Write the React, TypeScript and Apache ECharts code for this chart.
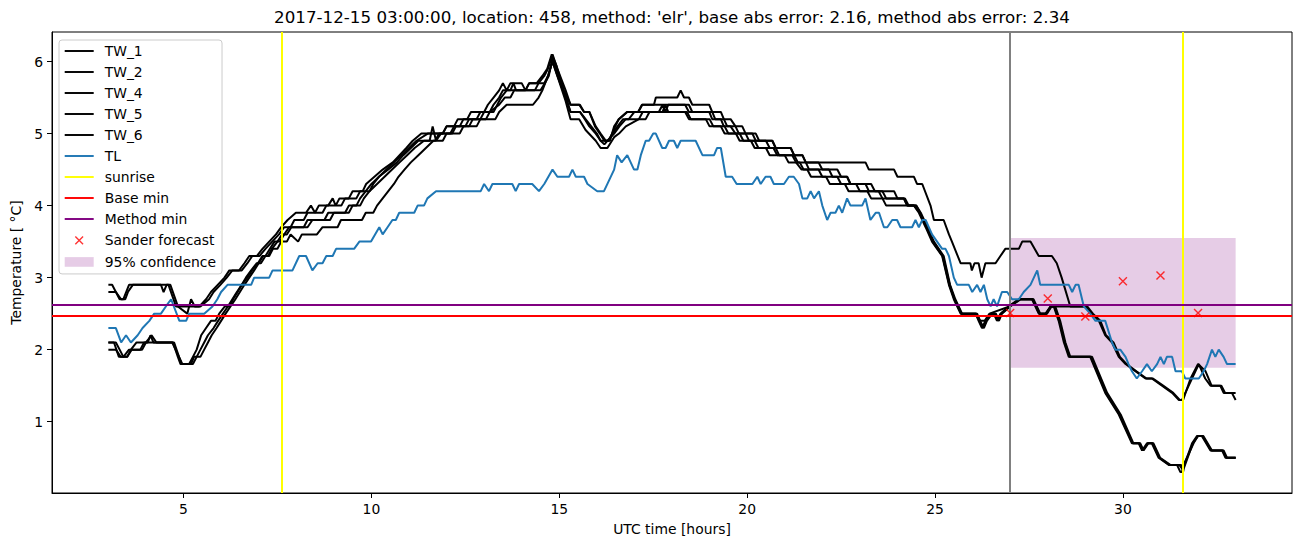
import React, { useEffect, useRef } from "react";
import * as echarts from "echarts";

const TITLE =
  "2017-12-15 03:00:00, location: 458, method: 'elr', base abs error: 2.16, method abs error: 2.34";
const X_NAME = "UTC time [hours]";
const Y_NAME = "Temperature [ °C]";
const xTicks = [5, 10, 15, 20, 25, 30];
const yTicks = [1, 2, 3, 4, 5, 6];

const tw1: number[][] = [
  [3.0,2.9],[3.1,2.9],[3.3,2.7],[3.4,2.7],[3.55,2.9],[4.4,2.9],[4.47,2.8],[4.55,2.9],[4.65,2.9],[4.85,2.6],[5.1,2.5],[5.2,2.7],[5.3,2.6],[5.42,2.6],[5.6,2.7],[5.73,2.8],[5.91,2.9],[6.09,3.0],[6.22,3.1],[6.48,3.1],[6.62,3.2],[6.75,3.3],[6.95,3.3],[7.1,3.4],[7.28,3.5],[7.46,3.6],[7.6,3.7],[7.77,3.8],[7.99,3.9],[8.26,3.9],[8.39,4.0],[8.5,3.9],[8.6,4.0],[8.85,4.0],[8.97,4.1],[9.05,4.0],[9.15,4.1],[9.4,4.1],[9.5,4.2],[9.77,4.2],[9.86,4.3],[10.08,4.4],[10.3,4.5],[10.57,4.6],[10.75,4.7],[10.93,4.8],[11.1,4.9],[11.33,5.0],[11.9,5.0],[12.0,5.1],[12.2,5.1],[12.3,5.2],[12.55,5.2],[12.65,5.3],[13.0,5.3],[13.1,5.4],[13.25,5.5],[13.4,5.6],[13.5,5.7],[13.6,5.6],[13.7,5.7],[14.0,5.7],[14.1,5.6],[14.2,5.7],[14.45,5.7],[14.6,5.8],[14.7,5.9],[14.82,6.1],[14.95,5.9],[15.17,5.6],[15.3,5.4],[15.53,5.4],[15.66,5.3],[15.8,5.3],[15.97,5.1],[16.1,5.0],[16.24,4.9],[16.35,4.9],[16.46,5.1],[16.59,5.2],[16.81,5.3],[17.1,5.3],[17.21,5.4],[18.45,5.4],[18.54,5.3],[18.99,5.3],[19.07,5.2],[19.3,5.2],[19.38,5.1],[19.56,5.1],[19.69,5.0],[19.96,5.0],[20.05,4.9],[20.5,4.9],[20.6,4.8],[20.76,4.8],[20.85,4.7],[21.25,4.7],[21.35,4.6],[21.56,4.6],[21.65,4.5],[22.18,4.5],[22.27,4.4],[22.66,4.4],[22.75,4.3],[23.15,4.3],[23.24,4.2],[23.91,4.2],[24.0,4.1],[24.17,4.1],[24.26,4.0],[24.44,4.0],[24.57,3.9],[24.75,3.7],[24.92,3.5],[25.19,3.3],[25.37,2.9],[25.5,2.7],[25.68,2.5],[26.08,2.5],[26.16,2.4],[26.25,2.3],[26.34,2.4],[26.48,2.5],[26.56,2.5],[26.65,2.4],[26.74,2.5],[26.96,2.6],[27.23,2.7],[27.58,2.7],[27.76,2.5],[27.94,2.5],[28.07,2.6],[28.16,2.6],[28.29,2.4],[28.43,2.1],[28.56,1.9],[29.13,1.9],[29.53,1.4],[29.89,1.1],[30.24,0.7],[30.42,0.7],[30.51,0.6],[30.64,0.7],[30.77,0.7],[30.95,0.5],[31.22,0.4],[31.44,0.4],[31.53,0.3],[31.57,0.3],[31.84,0.7],[31.97,0.8],[32.1,0.8],[32.33,0.6],[32.64,0.6],[32.73,0.5],[33.0,0.5]
];

const tw2: number[][] = [
  [3.0,2.8],[3.2,2.8],[3.34,2.7],[3.45,2.7],[3.52,2.8],[3.65,2.9],[4.6,2.9],[4.8,2.6],[5.45,2.6],[5.68,2.7],[5.8,2.8],[5.98,2.9],[6.15,3.0],[6.3,3.1],[6.55,3.1],[6.7,3.2],[6.83,3.3],[7.02,3.3],[7.18,3.4],[7.36,3.5],[7.54,3.6],[7.68,3.7],[7.85,3.7],[7.95,3.8],[8.2,3.8],[8.3,3.9],[8.7,3.9],[8.8,4.0],[9.2,4.0],[9.3,4.1],[9.6,4.1],[9.7,4.2],[9.95,4.2],[10.05,4.3],[10.2,4.4],[10.45,4.5],[10.68,4.6],[10.85,4.7],[11.05,4.8],[11.25,4.9],[11.55,4.9],[11.63,5.1],[11.72,4.9],[11.85,5.0],[12.1,5.0],[12.2,5.1],[12.5,5.1],[12.6,5.2],[12.9,5.2],[13.0,5.3],[13.25,5.3],[13.35,5.4],[13.45,5.5],[13.6,5.6],[13.7,5.6],[13.78,5.7],[13.85,5.6],[14.5,5.6],[14.62,5.7],[14.72,5.8],[14.82,6.05],[14.92,5.9],[15.15,5.55],[15.3,5.3],[15.55,5.3],[15.7,5.2],[15.85,5.1],[16.0,5.0],[16.1,4.9],[16.3,4.9],[16.42,5.0],[16.55,5.1],[16.7,5.2],[16.85,5.2],[17.0,5.3],[17.65,5.3],[17.75,5.4],[17.82,5.3],[17.9,5.4],[18.35,5.4],[18.45,5.3],[19.07,5.3],[19.15,5.2],[19.38,5.2],[19.47,5.1],[19.69,5.1],[19.78,5.0],[20.23,5.0],[20.32,4.9],[20.67,4.9],[20.76,4.8],[21.16,4.8],[21.25,4.7],[21.47,4.7],[21.56,4.6],[21.9,4.6],[22.0,4.5],[22.4,4.5],[22.5,4.4],[22.66,4.4],[22.75,4.3],[23.3,4.3],[23.4,4.2],[23.6,4.2],[23.7,4.1],[24.2,4.1],[24.3,4.0],[24.5,4.0],[24.62,3.9],[24.8,3.7],[24.97,3.5],[25.23,3.3],[25.4,2.9],[25.54,2.7],[25.72,2.5],[26.12,2.5],[26.2,2.4],[26.3,2.3],[26.38,2.4],[26.52,2.5],[26.62,2.5],[26.7,2.4],[26.78,2.5],[27.0,2.6],[27.28,2.7],[27.62,2.7],[27.8,2.5],[27.98,2.5],[28.1,2.6],[28.2,2.6],[28.33,2.4],[28.47,2.1],[28.6,1.9],[29.18,1.9],[29.58,1.4],[29.94,1.1],[30.28,0.7],[30.46,0.7],[30.55,0.6],[30.68,0.7],[30.81,0.7],[30.99,0.5],[31.26,0.4],[31.55,0.4],[31.6,0.3],[31.62,0.35],[31.86,0.7],[32.0,0.8],[32.14,0.8],[32.37,0.6],[32.68,0.6],[32.77,0.5],[33.0,0.5]
];

const tw4: number[][] = [
  [3.0,2.1],[3.15,2.1],[3.28,1.9],[3.4,1.9],[3.55,2.0],[3.9,2.0],[4.0,2.1],[4.15,2.2],[4.28,2.1],[4.7,2.1],[4.88,1.9],[4.97,1.8],[5.2,1.8],[5.28,1.9],[5.45,1.9],[5.55,2.0],[5.65,2.1],[5.75,2.2],[5.88,2.3],[6.0,2.4],[6.12,2.5],[6.25,2.6],[6.38,2.7],[6.5,2.8],[6.62,2.9],[6.75,3.0],[6.88,3.1],[7.0,3.2],[7.12,3.3],[7.25,3.3],[7.35,3.4],[7.5,3.5],[7.62,3.6],[7.75,3.6],[7.87,3.7],[8.3,3.7],[8.43,3.8],[8.9,3.8],[9.0,3.9],[9.4,3.9],[9.5,4.0],[9.7,4.0],[9.8,4.1],[9.95,4.2],[10.15,4.3],[10.35,4.4],[10.55,4.5],[10.75,4.6],[10.95,4.7],[11.15,4.8],[11.4,4.9],[11.7,4.9],[11.8,5.0],[12.15,5.0],[12.25,5.1],[12.6,5.1],[12.7,5.2],[13.05,5.2],[13.15,5.3],[13.4,5.4],[13.55,5.5],[13.7,5.5],[13.8,5.6],[14.35,5.6],[14.45,5.7],[14.6,5.7],[14.7,5.8],[14.82,6.0],[14.95,5.8],[15.17,5.5],[15.3,5.3],[15.55,5.3],[15.68,5.2],[15.8,5.1],[15.97,5.0],[16.1,4.9],[16.2,4.85],[16.28,4.9],[16.46,5.0],[16.6,5.1],[16.77,5.2],[17.12,5.2],[17.22,5.3],[18.4,5.3],[18.5,5.2],[19.0,5.2],[19.1,5.1],[19.4,5.1],[19.5,5.0],[19.8,5.0],[19.9,4.9],[20.2,4.9],[20.3,4.8],[20.7,4.8],[20.8,4.7],[21.2,4.7],[21.3,4.6],[21.45,4.5],[21.6,4.5],[21.7,4.4],[22.1,4.4],[22.2,4.3],[22.6,4.3],[22.7,4.2],[23.2,4.2],[23.3,4.1],[23.6,4.1],[23.7,4.0],[24.44,4.0],[24.6,3.9],[24.78,3.7],[24.95,3.5],[25.2,3.3],[25.38,2.9],[25.52,2.7],[25.7,2.5],[26.1,2.5],[26.18,2.4],[26.27,2.3],[26.36,2.4],[26.5,2.5],[26.6,2.5],[26.68,2.4],[26.76,2.5],[26.98,2.6],[27.25,2.7],[27.6,2.7],[27.78,2.5],[27.96,2.5],[28.08,2.6],[28.18,2.6],[28.31,2.4],[28.45,2.1],[28.58,1.9],[29.15,1.9],[29.55,1.4],[29.91,1.1],[30.26,0.7],[30.44,0.7],[30.53,0.6],[30.66,0.7],[30.79,0.7],[30.97,0.5],[31.24,0.4],[31.5,0.4],[31.57,0.35],[31.88,0.7],[31.99,0.8],[32.12,0.8],[32.35,0.6],[32.66,0.6],[32.75,0.5],[33.0,0.5]
];

const tw5: number[][] = [
  [3.0,2.1],[3.2,2.1],[3.3,2.0],[3.4,1.9],[3.5,1.9],[3.6,2.0],[3.75,2.1],[4.75,2.1],[4.88,1.9],[4.95,1.8],[5.15,1.8],[5.25,1.9],[5.35,2.0],[5.47,2.2],[5.6,2.3],[5.73,2.4],[5.85,2.4],[5.95,2.5],[6.1,2.6],[6.22,2.6],[6.32,2.7],[6.44,2.8],[6.55,2.9],[6.66,3.0],[6.8,3.1],[6.95,3.2],[7.06,3.2],[7.18,3.3],[7.3,3.4],[7.42,3.5],[7.56,3.5],[7.68,3.6],[7.81,3.7],[8.2,3.7],[8.3,3.8],[8.75,3.8],[8.85,3.9],[9.3,3.9],[9.4,4.0],[9.6,4.0],[9.7,4.1],[9.85,4.2],[10.0,4.3],[10.2,4.4],[10.4,4.5],[10.6,4.6],[10.8,4.7],[11.0,4.8],[11.2,4.9],[11.5,5.0],[11.9,5.0],[12.0,5.1],[12.35,5.1],[12.45,5.2],[12.8,5.2],[12.9,5.3],[13.15,5.3],[13.25,5.4],[13.4,5.5],[13.5,5.6],[14.1,5.6],[14.2,5.7],[14.4,5.7],[14.55,5.8],[14.68,5.9],[14.8,6.1],[14.92,5.95],[15.12,5.6],[15.3,5.4],[15.55,5.4],[15.66,5.3],[15.8,5.3],[15.95,5.1],[16.08,5.0],[16.2,4.9],[16.32,4.9],[16.45,5.05],[16.58,5.2],[16.8,5.3],[17.1,5.3],[17.2,5.4],[17.52,5.4],[17.57,5.5],[18.14,5.5],[18.23,5.6],[18.32,5.5],[18.45,5.5],[18.54,5.4],[18.99,5.4],[19.07,5.3],[19.3,5.3],[19.38,5.2],[19.56,5.2],[19.69,5.1],[19.87,5.1],[19.96,5.0],[20.14,5.0],[20.23,4.9],[20.67,4.9],[20.76,4.8],[21.16,4.8],[21.25,4.7],[21.47,4.7],[21.56,4.6],[23.15,4.6],[23.24,4.5],[23.91,4.5],[24.0,4.4],[24.44,4.4],[24.52,4.3],[24.66,4.3],[24.88,4.0],[24.97,3.8],[25.23,3.8],[25.37,3.6],[25.45,3.5],[25.68,3.2],[25.94,3.2],[25.98,3.1],[26.05,3.2],[26.16,3.2],[26.24,3.0],[26.34,3.2],[26.61,3.2],[26.74,3.3],[26.87,3.4],[27.23,3.4],[27.32,3.5],[27.54,3.5],[27.76,3.3],[28.11,3.3],[28.24,3.2],[28.37,3.0],[28.6,2.6],[29.0,2.6],[29.18,2.5],[29.36,2.4],[29.53,2.2],[29.71,2.1],[29.89,1.9],[30.07,1.8],[30.33,1.7],[30.6,1.6],[30.77,1.6],[31.04,1.5],[31.31,1.4],[31.49,1.3],[31.57,1.3],[32.02,1.8],[32.19,1.6],[32.33,1.5],[32.59,1.5],[32.68,1.4],[33.0,1.4]
];

const tw6: number[][] = [
  [3.0,2.0],[3.2,2.0],[3.33,1.9],[3.5,1.9],[3.62,2.0],[3.85,2.0],[3.95,2.1],[4.05,2.1],[4.12,2.2],[4.2,2.1],[4.72,2.1],[4.85,1.9],[4.92,1.8],[5.25,1.8],[5.35,1.9],[5.45,2.0],[5.55,2.1],[5.65,2.2],[5.8,2.3],[5.92,2.4],[6.05,2.5],[6.18,2.6],[6.3,2.7],[6.42,2.8],[6.55,2.9],[6.7,3.0],[6.82,3.1],[6.98,3.2],[7.1,3.3],[7.28,3.3],[7.38,3.4],[7.5,3.4],[7.6,3.5],[7.75,3.5],[7.85,3.6],[8.05,3.5],[8.15,3.6],[8.55,3.6],[8.7,3.7],[9.1,3.7],[9.19,3.8],[9.75,3.8],[9.85,3.9],[10.05,3.9],[10.15,4.0],[10.3,4.1],[10.45,4.2],[10.6,4.3],[10.72,4.4],[10.88,4.5],[11.05,4.6],[11.25,4.7],[11.45,4.8],[11.65,4.9],[11.9,4.9],[12.0,5.0],[12.35,5.0],[12.45,5.1],[12.8,5.1],[12.9,5.2],[13.3,5.2],[13.4,5.3],[13.6,5.4],[14.3,5.4],[14.45,5.5],[14.55,5.6],[14.7,5.8],[14.82,6.0],[14.95,5.8],[15.17,5.45],[15.3,5.2],[15.53,5.2],[15.7,5.05],[15.97,4.9],[16.1,4.8],[16.28,4.8],[16.46,4.95],[16.59,5.0],[16.77,5.1],[17.12,5.2],[17.3,5.2],[17.4,5.3],[17.75,5.3],[17.82,5.4],[17.9,5.3],[18.35,5.3],[18.45,5.2],[18.9,5.2],[19.0,5.1],[19.3,5.1],[19.4,5.0],[19.7,5.0],[19.8,4.9],[20.1,4.9],[20.2,4.8],[20.5,4.8],[20.6,4.7],[21.0,4.7],[21.1,4.6],[21.4,4.6],[21.5,4.5],[21.9,4.5],[22.0,4.4],[22.4,4.4],[22.5,4.3],[22.9,4.3],[23.0,4.2],[23.5,4.2],[23.6,4.1],[24.17,4.1],[24.26,4.0],[24.5,4.0],[24.6,3.9],[24.77,3.7],[24.94,3.5],[25.21,3.3],[25.39,2.9],[25.52,2.7],[25.7,2.5],[26.1,2.5],[26.2,2.4],[26.32,2.4],[26.45,2.5],[26.98,2.6],[27.25,2.7],[27.6,2.7],[27.78,2.5],[27.96,2.5],[28.08,2.6],[29.05,2.6],[29.2,2.5],[29.4,2.4],[29.55,2.2],[29.75,2.1],[29.92,1.9],[30.1,1.8],[30.36,1.7],[30.63,1.6],[30.8,1.6],[31.07,1.5],[31.34,1.4],[31.52,1.3],[31.6,1.3],[31.8,1.6],[32.0,1.8],[32.2,1.7],[32.36,1.5],[32.62,1.5],[32.72,1.4],[32.9,1.4],[33.0,1.3]
];

const tl: number[][] = [
  [3.0,2.3],[3.2,2.3],[3.34,2.1],[3.47,2.2],[3.6,2.1],[3.78,2.2],[3.91,2.3],[4.09,2.4],[4.22,2.5],[4.4,2.5],[4.53,2.6],[4.67,2.7],[4.89,2.4],[5.07,2.4],[5.15,2.5],[5.55,2.5],[5.77,2.6],[5.9,2.7],[6.0,2.8],[6.17,2.9],[6.8,2.9],[6.88,3.0],[7.28,3.0],[7.37,3.1],[7.9,3.1],[8.08,3.3],[8.26,3.3],[8.43,3.1],[8.57,3.2],[8.7,3.2],[8.8,3.3],[8.97,3.3],[9.06,3.4],[9.54,3.4],[9.68,3.5],[9.99,3.5],[10.21,3.7],[10.3,3.6],[10.43,3.7],[10.56,3.8],[10.65,3.8],[10.74,3.9],[11.14,3.9],[11.23,4.0],[11.4,4.0],[11.49,4.1],[11.72,4.2],[12.91,4.2],[13.0,4.3],[13.13,4.2],[13.22,4.3],[13.75,4.3],[13.84,4.2],[13.93,4.3],[14.28,4.3],[14.46,4.2],[14.6,4.3],[14.82,4.5],[14.95,4.4],[15.26,4.4],[15.35,4.5],[15.44,4.4],[15.66,4.4],[15.75,4.3],[16.01,4.2],[16.19,4.2],[16.46,4.5],[16.54,4.7],[16.66,4.6],[16.81,4.7],[16.99,4.5],[17.08,4.5],[17.17,4.7],[17.3,4.9],[17.39,4.9],[17.5,5.0],[17.57,5.0],[17.74,4.8],[17.83,4.8],[17.92,4.9],[18.05,4.9],[18.14,4.8],[18.23,4.9],[18.63,4.9],[18.81,4.7],[19.12,4.7],[19.2,4.8],[19.3,4.8],[19.43,4.4],[19.6,4.4],[19.72,4.3],[20.14,4.3],[20.27,4.4],[20.36,4.3],[20.49,4.4],[20.62,4.4],[20.71,4.3],[20.98,4.3],[21.11,4.4],[21.24,4.4],[21.38,4.3],[21.47,4.1],[21.6,4.1],[21.69,4.2],[21.78,4.1],[21.91,4.2],[22.0,4.0],[22.13,3.8],[22.22,3.9],[22.35,3.9],[22.44,4.0],[22.53,3.9],[22.66,4.1],[22.75,4.0],[23.06,4.0],[23.15,4.1],[23.28,3.8],[23.42,3.9],[23.51,3.9],[23.64,3.7],[23.73,3.7],[23.86,3.8],[23.99,3.8],[24.08,3.7],[24.39,3.7],[24.48,3.8],[24.57,3.7],[24.66,3.8],[24.75,3.8],[24.92,3.6],[25.19,3.4],[25.28,3.4],[25.37,3.3],[25.5,3.0],[25.59,2.9],[25.9,2.9],[25.99,2.8],[26.12,2.9],[26.21,2.8],[26.3,2.9],[26.39,2.7],[26.48,2.6],[26.56,2.7],[26.65,2.6],[26.78,2.8],[26.92,2.8],[27.05,2.7],[27.23,2.7],[27.36,2.8],[27.54,2.9],[27.72,3.1],[27.8,2.9],[28.56,2.9],[28.65,2.8],[28.74,2.9],[28.82,2.9],[28.96,2.6],[29.13,2.5],[29.27,2.4],[29.53,2.4],[29.71,2.1],[29.8,2.0],[29.93,2.0],[30.07,1.9],[30.15,1.8],[30.24,1.7],[30.37,1.6],[30.51,1.7],[30.64,1.8],[30.77,1.7],[30.91,1.8],[31.0,1.9],[31.09,1.8],[31.17,1.9],[31.31,1.9],[31.4,1.7],[31.57,1.7],[31.66,1.6],[32.02,1.6],[32.15,1.7],[32.24,1.8],[32.37,2.0],[32.46,1.9],[32.55,2.0],[32.68,1.9],[32.77,1.8],[33.0,1.8]
];

const sunriseHours = [7.62, 31.59];
const forecastStartHour = 27;
const baseMin = 2.47;
const methodMin = 2.635;
const sanderHours = [27, 28, 29, 30, 31, 32];
const sanderValues = [2.51, 2.71, 2.46, 2.95, 3.03, 2.51];
const confidenceHours = [27, 33];
const confidenceBounds = [1.75, 3.55];

const BLACK = "#000000";
const BLUE = "#1f77b4";
const YELLOW = "#ffff00";
const RED = "#ff0000";
const PURPLE = "#800080";
const GRAY = "#808080";
const CONF = "rgba(128,0,128,0.2)";
const FONT = "DejaVu Sans";

const LINE_ICON = "path://M0,0H30V2H0Z";
const RECT_ICON = "path://M0,0H30V10H0Z";
const X_ICON = "path://M0,0L0,0M30,14L30,14M11,3L19,11M19,3L11,11";
const X_SYMBOL = "path://M0,0L10,10M10,0L0,10";

const twSeries: [string, number[][]][] = [
  ["TW_1", tw1],
  ["TW_2", tw2],
  ["TW_4", tw4],
  ["TW_5", tw5],
  ["TW_6", tw6],
];

export default function App() {
  const ref = useRef<HTMLDivElement>(null);
  useEffect(() => {
    if (!ref.current) return;
    const chart = echarts.init(ref.current, undefined, { renderer: "svg" });
    const lineSeries = (name: string, data: number[][], color: string) => ({
      name,
      type: "line",
      data,
      showSymbol: false,
      symbol: "none",
      silent: true,
      lineStyle: { color, width: 2 },
      itemStyle: { color },
      z: 2,
    });
    const markLineSeries = (name: string, color: string, data: any[], z = 3) => ({
      name,
      type: "line",
      data: [],
      symbol: "none",
      lineStyle: { color, width: 2 },
      itemStyle: { color },
      z,
      markLine: {
        silent: true,
        symbol: ["none", "none"],
        label: { show: false },
        lineStyle: { color, width: 2, type: "solid" },
        emphasis: { disabled: true },
        data,
      },
    });
    const option: any = {
      animation: false,
      textStyle: { fontFamily: FONT },
      title: {
        text: TITLE,
        left: 672,
        top: 8,
        padding: 0,
        textAlign: "center",
        textStyle: { fontSize: 16.7, fontWeight: "normal", color: BLACK, fontFamily: FONT },
      },
      grid: {
        left: 52,
        right: 10,
        top: 32,
        bottom: 54,
        show: true,
        borderColor: BLACK,
        borderWidth: 1,
        backgroundColor: "transparent",
      },
      xAxis: {
        type: "value",
        min: 1.5,
        max: 34.5,
        name: X_NAME,
        nameLocation: "middle",
        nameGap: 29,
        nameTextStyle: { fontSize: 13.9, color: BLACK, fontFamily: FONT },
        axisLine: { show: true, lineStyle: { color: BLACK, width: 1 } },
        axisTick: { show: true, length: 5, lineStyle: { color: BLACK, width: 1 }, customValues: xTicks },
        axisLabel: { fontSize: 13.9, color: BLACK, margin: 9, fontFamily: FONT, customValues: xTicks },
        splitLine: { show: false },
      },
      yAxis: {
        type: "value",
        min: 0.01,
        max: 6.41,
        name: Y_NAME,
        nameLocation: "middle",
        nameGap: 28,
        nameTextStyle: { fontSize: 13.9, color: BLACK, fontFamily: FONT },
        axisLine: { show: true, lineStyle: { color: BLACK, width: 1 } },
        axisTick: { show: true, length: 5, lineStyle: { color: BLACK, width: 1 }, customValues: yTicks },
        axisLabel: { fontSize: 13.9, color: BLACK, margin: 9, fontFamily: FONT, customValues: yTicks },
        splitLine: { show: false },
      },
      legend: {
        orient: "vertical",
        left: 59,
        top: 40,
        padding: [4, 6, 5, 5],
        itemGap: 7,
        itemWidth: 29,
        itemHeight: 14,
        selectedMode: false,
        backgroundColor: "rgba(255,255,255,0.8)",
        borderColor: "#cccccc",
        borderWidth: 1,
        borderRadius: 3,
        itemStyle: { borderWidth: 0 },
        textStyle: { fontSize: 13.9, color: BLACK, fontFamily: FONT, lineHeight: 14, padding: [0, 0, 0, 6] },
        data: [
          ...twSeries.map(([n]) => ({ name: n, icon: LINE_ICON, itemStyle: { color: BLACK, borderWidth: 0 } })),
          { name: "TL", icon: LINE_ICON, itemStyle: { color: BLUE, borderWidth: 0 } },
          { name: "sunrise", icon: LINE_ICON, itemStyle: { color: YELLOW, borderWidth: 0 } },
          { name: "Base min", icon: LINE_ICON, itemStyle: { color: RED, borderWidth: 0 } },
          { name: "Method min", icon: LINE_ICON, itemStyle: { color: PURPLE, borderWidth: 0 } },
          {
            name: "Sander forecast",
            icon: X_ICON,
            itemStyle: { color: "transparent", borderColor: RED, borderWidth: 1.4 },
          },
          { name: "95% confidence", icon: RECT_ICON, itemStyle: { color: CONF, borderWidth: 0 } },
        ],
      },
      series: [
        {
          name: "95% confidence",
          type: "line",
          data: [],
          symbol: "none",
          lineStyle: { color: CONF },
          itemStyle: { color: CONF },
          z: 1,
          markArea: {
            silent: true,
            itemStyle: { color: CONF, borderWidth: 0 },
            emphasis: { disabled: true },
            data: [
              [
                { xAxis: confidenceHours[0], yAxis: confidenceBounds[1] },
                { xAxis: confidenceHours[1], yAxis: confidenceBounds[0] },
              ],
            ],
          },
        },
        ...twSeries.map(([n, d]) => lineSeries(n, d, BLACK)),
        lineSeries("TL", tl, BLUE),
        markLineSeries("forecast start", GRAY, [{ xAxis: forecastStartHour }]),
        markLineSeries("sunrise", YELLOW, sunriseHours.map((h) => ({ xAxis: h }))),
        markLineSeries("Base min", RED, [{ yAxis: baseMin }]),
        markLineSeries("Method min", PURPLE, [{ yAxis: methodMin }]),
        {
          name: "Sander forecast",
          type: "scatter",
          data: sanderHours.map((h, i) => [h, sanderValues[i]]),
          symbol: X_SYMBOL,
          symbolSize: 8,
          silent: true,
          itemStyle: { color: "transparent", borderColor: RED, borderWidth: 1.4 },
          z: 5,
        },
      ],
    };
    chart.setOption(option);
    return () => chart.dispose();
  }, []);
  return (
    <div
      ref={ref}
      style={{ position: "absolute", left: 0, top: 0, width: 1302, height: 547, background: "#fff" }}
    />
  );
}
